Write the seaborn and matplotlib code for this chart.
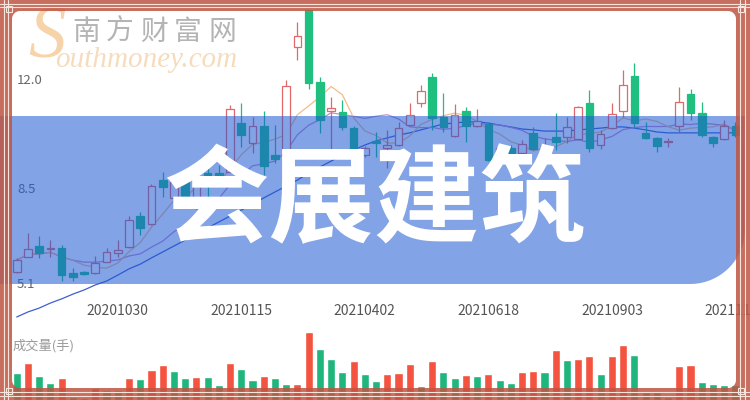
import numpy as np
import pandas as pd
import matplotlib
matplotlib.use("Agg")
import matplotlib.pyplot as plt
import seaborn as sns
from matplotlib.path import Path
from matplotlib.patches import PathPatch, Rectangle

sns.set_theme(style="white")
plt.rcParams["font.family"] = ["Noto Sans CJK SC", "DejaVu Sans"]

# weekly k-line, 2020-08-28 .. 2021-11-19
opens = [5.55, 6.05, 6.41, 6.31, 6.33, 5.49, 5.54, 5.49, 5.88, 6.17,
         6.37, 7.43, 7.14, 8.63, 8.03, 8.58, 7.68, 8.86, 8.88, 8.91,
         10.54, 9.87, 10.45, 9.47, 9.64, 13.10, 14.36, 11.94, 10.97, 10.93,
         10.37, 9.47, 9.96, 9.72, 9.81, 10.48, 11.24, 12.11, 10.76, 10.11,
         10.96, 10.45, 10.51, 9.59, 9.72, 9.53, 10.23, 9.59, 10.07, 10.07,
         10.00, 11.24, 9.81, 10.37, 10.97, 12.14, 10.23, 10.04, 9.91, 10.45,
         11.53, 10.88, 10.07, 10.00, 10.45]
highs = [6.01, 6.84, 6.76, 6.61, 6.44, 5.66, 5.58, 6.07, 6.33, 6.61,
         7.42, 7.57, 8.50, 8.91, 8.77, 8.70, 8.84, 9.04, 9.14, 11.16,
         11.22, 10.76, 10.96, 10.48, 12.00, 13.96, 14.36, 12.11, 11.44, 11.33,
         10.45, 9.78, 10.26, 10.32, 10.60, 11.23, 11.83, 12.25, 11.57, 11.18,
         11.08, 11.01, 10.55, 9.78, 9.81, 9.98, 10.41, 10.04, 10.89, 10.76,
         11.12, 11.66, 10.32, 11.22, 12.34, 12.58, 10.60, 10.08, 10.05, 11.77,
         11.69, 11.27, 10.11, 10.65, 10.59]
lows = [5.50, 6.04, 6.00, 6.05, 5.24, 5.24, 5.43, 5.47, 5.87, 6.05,
        6.34, 6.78, 7.12, 8.07, 7.96, 7.69, 7.66, 7.96, 8.70, 8.90,
        9.75, 9.54, 8.80, 9.21, 9.61, 12.67, 11.69, 10.21, 9.59, 10.32,
        9.54, 9.41, 9.42, 9.04, 9.78, 10.45, 11.08, 10.32, 10.26, 10.07,
        9.92, 10.42, 9.27, 9.54, 9.47, 9.51, 9.64, 9.58, 9.64, 9.87,
        9.98, 9.59, 9.67, 10.35, 10.76, 10.37, 10.01, 9.59, 9.75, 10.26,
        10.65, 10.07, 9.73, 9.98, 10.08]
closes = [5.94, 6.30, 6.19, 6.36, 5.43, 5.38, 5.47, 5.85, 6.20, 6.28,
          7.29, 7.01, 8.44, 8.41, 8.57, 7.85, 8.69, 8.77, 8.78, 11.01,
          10.15, 10.45, 9.11, 9.33, 11.80, 13.48, 11.91, 10.65, 11.06, 10.43,
          9.59, 9.70, 9.87, 9.81, 10.39, 10.82, 11.64, 10.71, 10.43, 10.82,
          10.45, 10.63, 9.31, 9.70, 9.53, 9.84, 9.67, 9.81, 9.92, 10.41,
          11.08, 9.70, 10.18, 10.85, 11.83, 10.54, 10.04, 9.78, 9.95, 11.25,
          10.88, 10.15, 9.87, 10.45, 10.15]
# long moving average (history before the window is not shown)
ma_slow = [4.02, 4.19, 4.32, 4.49, 4.63, 4.79, 4.93, 5.10, 5.23, 5.43,
           5.64, 5.80, 6.01, 6.21, 6.41, 6.61, 6.81, 7.02, 7.22, 7.42,
           7.62, 7.82, 8.03, 8.23, 8.43, 8.63, 8.87, 9.07, 9.27, 9.47,
           9.64, 9.81, 9.95, 10.05, 10.15, 10.22, 10.32, 10.42, 10.52, 10.55,
           10.59, 10.59, 10.55, 10.48, 10.42, 10.35, 10.32, 10.28, 10.28, 10.28,
           10.32, 10.35, 10.38, 10.42, 10.42, 10.38, 10.32, 10.25, 10.22, 10.22,
           10.22, 10.22, 10.22, 10.22, 10.22]
# volume (万手) and bar colour (1 = red, 0 = green)
volumes = [26.7, 36.7, 24.0, 17.3, 21.7, 3.0, 2.0, 12.0, 10.0, 10.0,
           22.0, 21.0, 30.0, 35.0, 29.0, 22.0, 23.0, 23.0, 15.3, 36.7,
           31.0, 20.3, 24.3, 22.0, 16.0, 16.3, 68.0, 50.7, 41.3, 28.0,
           38.7, 26.3, 19.0, 25.7, 26.7, 36.0, 14.0, 39.0, 28.3, 22.0,
           25.0, 24.0, 26.0, 20.3, 17.3, 28.0, 29.0, 28.0, 49.7, 40.0,
           40.7, 44.0, 25.7, 44.0, 55.0, 45.0, 8.0, 8.0, 3.0, 34.3,
           35.3, 18.3, 16.3, 14.7, 15.0]
vol_up = [0, 1, 0, 0, 1, 0, 0, 1, 0, 0,
          1, 0, 1, 1, 0, 0, 1, 0, 0, 1,
          0, 0, 1, 0, 0, 1, 1, 0, 0, 0,
          1, 0, 0, 1, 1, 1, 0, 1, 0, 0,
          1, 0, 1, 0, 0, 1, 1, 0, 1, 0,
          1, 1, 0, 1, 1, 0, 0, 0, 0, 1,
          1, 0, 0, 0, 0]

tick_idx = [9, 20, 31, 42, 53, 64]
tick_labels = ["20201030", "20210115", "20210402", "20210618", "20210903", "20211119"]
price_labels = ["12.0", "8.5", "5.1"]
price_label_pos = [12.0, 8.3, 5.1]
title = "会展建筑"
watermark_cn = "南方财富网"
watermark_en = "outhmoney.com"

RED_K = "#e3686a"
GREEN_K = "#1fbf80"
RED_V = "#f4533f"
GREEN_V = "#1eb67c"
FRAME = "#bf5543"

W, H = 750, 400
X0, DX = 16.7, 11.23          # first candle centre / spacing in px
Y12, PY = 80.0, 29.7          # px of 12.0 / px per unit

df = pd.DataFrame({"open": opens, "high": highs, "low": lows, "close": closes,
                   "ma_slow": ma_slow, "volume": volumes, "vol_up": vol_up})
df["idx"] = np.arange(len(df))
df["ma5"] = df["close"].rolling(5, min_periods=1).mean()
df["ma10"] = df["close"].rolling(10, min_periods=1).mean()
df["vol_col"] = np.where(df["vol_up"] == 1, "up", "down")
rising = df["close"] >= df["open"]

fig = plt.figure(figsize=(W / 100, H / 100), dpi=100)
fig.patch.set_facecolor("white")
xlim = (-X0 / DX, (W - X0) / DX)

#  price panel
ax = fig.add_axes([0, 0, 1, 1])
sns.lineplot(x=df["idx"], y=df["ma_slow"], ax=ax, color="#3e5fd0", lw=0.9, zorder=2)
sns.lineplot(x=df["idx"], y=df["ma10"], ax=ax, color="#c98ad0", lw=0.9, zorder=2)
sns.lineplot(x=df["idx"], y=df["ma5"], ax=ax, color="#f3bd86", lw=0.9, zorder=2)

k_col = np.where(rising, RED_K, GREEN_K)
face = np.where(rising, "white", GREEN_K)
ax.vlines(df["idx"], df["low"], df["high"], colors=k_col, lw=0.9, zorder=3)
body_h = np.maximum((df["close"] - df["open"]).abs(), 0.03)
ax.bar(df["idx"], body_h, bottom=np.minimum(df["open"], df["close"]), width=0.68,
       color=face, edgecolor=k_col, linewidth=0.9, zorder=4)

ytr = ax.get_yaxis_transform()
for lab, pos in zip(price_labels, price_label_pos):
    ax.text(17 / W, pos, lab, transform=ytr, ha="left", va="center",
            fontsize=9.5, color="#666666", zorder=1)
xtr = ax.get_xaxis_transform()
for i, lab in zip(tick_idx, tick_labels):
    ax.text(i, 1 - 311 / H, lab, transform=xtr, ha="center", va="center",
            fontsize=10, color="#555555")

ax.set_xlim(xlim)
ax.set_ylim(12 - (H - Y12) / PY, 12 + Y12 / PY)
ax.axis("off")

#  volume panel
axv = fig.add_axes([0, 0, 1, 70 / H])
sns.barplot(data=df, x="idx", y="volume", hue="vol_col",
            palette={"up": RED_V, "down": GREEN_V}, native_scale=True,
            width=0.72, saturation=1, errorbar=None, legend=False, ax=axv)
axv.set_xlim(xlim)
axv.set_ylim(0, 70)
axv.axis("off")
fig.text(13 / W, 1 - 346 / H, "成交量(手)", ha="left", va="center",
         fontsize=9.5, color="#9a9a9a")

#  overlay: watermark, banner, title, frame (pixel coords)
ov = fig.add_axes([0, 0, 1, 1], zorder=5)
ov.set_xlim(0, W)
ov.set_ylim(H, 0)
ov.axis("off")

ov.text(47, 40, "S", ha="center", va="center", fontsize=54, style="italic",
        family="Liberation Serif", color="#f3c58c", alpha=0.75, zorder=0.5)
for k, ch in enumerate(watermark_cn):
    ov.text(86 + 34 * k, 32, ch, ha="center", va="center", fontsize=20,
            color="#b4b4b4", zorder=0.6)
ov.text(55, 67, watermark_en, ha="left", va="baseline", fontsize=21,
        style="italic", family="Liberation Serif", color="#f6dcbc", zorder=0.6)

theta = np.linspace(0, np.pi / 2, 30)
arc = np.column_stack([690 + 55 * np.cos(theta), 229 + 55 * np.sin(theta)])
banner = np.vstack([[(-5, 116), (745, 116)], arc, [(-5, 284), (-5, 116)]])
ov.add_patch(PathPatch(Path(banner, closed=True), facecolor="#1c58d2",
                       edgecolor="none", alpha=0.55, zorder=1))
ov.text(374, 203, title, ha="center", va="center", fontsize=76,
        fontweight="black", color="white", zorder=2)


def rounded_rect(x0, y0, x1, y1, r, n=12):
    pts = []
    for cx, cy, a0 in [(x1 - r, y0 + r, -np.pi / 2), (x1 - r, y1 - r, 0),
                       (x0 + r, y1 - r, np.pi / 2), (x0 + r, y0 + r, np.pi)]:
        t = np.linspace(a0, a0 + np.pi / 2, n)
        pts.append(np.column_stack([cx + r * np.cos(t), cy + r * np.sin(t)]))
    return np.vstack(pts)


outer = np.array([(0, 0), (W, 0), (W, H), (0, H), (0, 0)])
inner = rounded_rect(12, 11, 736, 388, 8)[::-1]
inner = np.vstack([inner, inner[:1]])
verts = np.vstack([outer, inner])
codes = ([Path.MOVETO] + [Path.LINETO] * 3 + [Path.CLOSEPOLY]
         + [Path.MOVETO] + [Path.LINETO] * (len(inner) - 2) + [Path.CLOSEPOLY])
ov.add_patch(PathPatch(Path(verts, codes), facecolor=FRAME, edgecolor="none",
                       alpha=0.85, zorder=3))
for y in (3.5, 7.0, 392.0, 396.0):
    ov.plot([0, W], [y, y], color="#f7e4da", lw=0.8, zorder=4)
for x in (3.5, 7.5, 740.0, 745.0):
    ov.plot([x, x], [0, H], color="#f7e4da", lw=0.8, zorder=4)
for cx, cy in [(9, 9), (741, 9), (9, 391), (741, 391)]:
    ov.add_patch(Rectangle((cx - 3, cy - 3), 6, 6, fill=False,
                           edgecolor="#f7e4da", lw=0.8, zorder=4))

fig.savefig("out.png", dpi=100)
